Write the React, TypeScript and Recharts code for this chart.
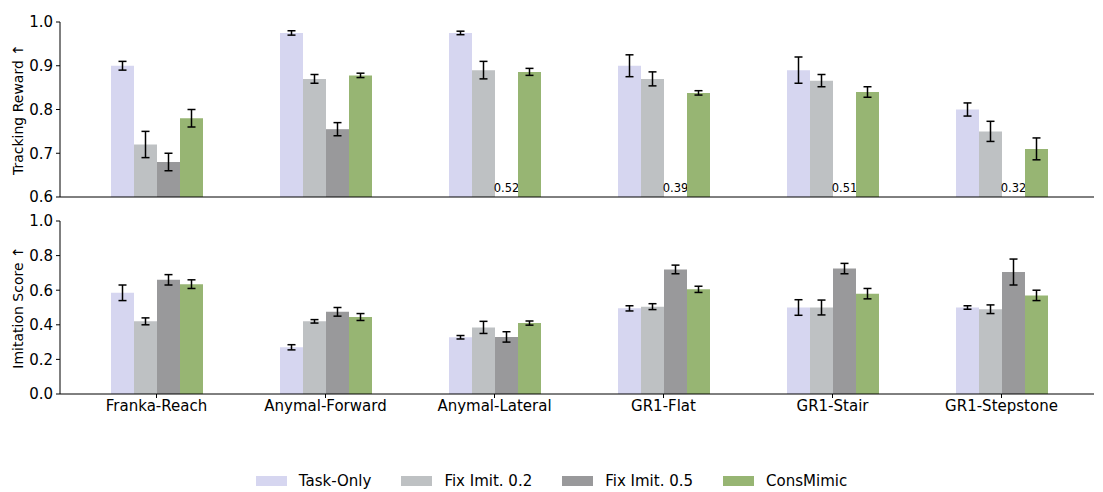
import { BarChart, Bar, XAxis, YAxis, ErrorBar, Label } from 'recharts';

const categories = ['Franka-Reach', 'Anymal-Forward', 'Anymal-Lateral', 'GR1-Flat', 'GR1-Stair', 'GR1-Stepstone'];

// Tracking reward (top panel)
const trackTask = [0.9, 0.975, 0.975, 0.9, 0.89, 0.8];
const trackTaskErr = [0.01, 0.005, 0.004, 0.025, 0.03, 0.015];
const trackFix2 = [0.72, 0.87, 0.89, 0.87, 0.866, 0.75];
const trackFix2Err = [0.03, 0.01, 0.02, 0.016, 0.014, 0.023];
const trackFix5 = [0.68, 0.755, 0.52, 0.39, 0.51, 0.32];
const trackFix5Err = [0.02, 0.015, null, null, null, null];
const trackCons = [0.78, 0.878, 0.886, 0.838, 0.84, 0.71];
const trackConsErr = [0.02, 0.005, 0.008, 0.005, 0.012, 0.025];

// Imitation score (bottom panel)
const imitTask = [0.585, 0.27, 0.328, 0.495, 0.5, 0.5];
const imitTaskErr = [0.045, 0.015, 0.01, 0.015, 0.045, 0.01];
const imitFix2 = [0.42, 0.42, 0.385, 0.505, 0.5, 0.49];
const imitFix2Err = [0.02, 0.01, 0.035, 0.017, 0.043, 0.025];
const imitFix5 = [0.66, 0.475, 0.33, 0.72, 0.725, 0.705];
const imitFix5Err = [0.03, 0.025, 0.03, 0.025, 0.03, 0.075];
const imitCons = [0.635, 0.445, 0.41, 0.605, 0.58, 0.57];
const imitConsErr = [0.025, 0.02, 0.012, 0.018, 0.03, 0.03];

const trackTicks = [0.6, 0.7, 0.8, 0.9, 1.0];
const imitTicks = [0, 0.2, 0.4, 0.6, 0.8, 1.0];

const SERIES = [
  { key: 'task', name: 'Task-Only', color: '#d6d6f0' },
  { key: 'fix2', name: 'Fix Imit. 0.2', color: '#bec1c3' },
  { key: 'fix5', name: 'Fix Imit. 0.5', color: '#99999b' },
  { key: 'cons', name: 'ConsMimic', color: '#97b573' },
];

const TRACK_MIN = 0.6;
const FONT = '"DejaVu Sans", sans-serif';

const trackData = categories.map((c, i) => ({
  name: c,
  task: trackTask[i], taskErr: trackTaskErr[i],
  fix2: trackFix2[i], fix2Err: trackFix2Err[i],
  fix5: trackFix5[i], fix5Err: trackFix5Err[i],
  cons: trackCons[i], consErr: trackConsErr[i],
}));

const imitData = categories.map((c, i) => ({
  name: c,
  task: imitTask[i], taskErr: imitTaskErr[i],
  fix2: imitFix2[i], fix2Err: imitFix2Err[i],
  fix5: imitFix5[i], fix5Err: imitFix5Err[i],
  cons: imitCons[i], consErr: imitConsErr[i],
}));

// bars below the visible range get their value written at the bottom instead
function Fix5Shape(p: any) {
  const { x, y, width, height, payload, fill } = p;
  if (payload.fix5 < TRACK_MIN) {
    return (
      <text x={x + width / 2} y={y + height - 5} textAnchor="middle" fontSize={11.5} fontFamily={FONT} fill="#000">
        {payload.fix5.toFixed(2)}
      </text>
    );
  }
  return <rect x={x} y={y} width={width} height={height} fill={fill} />;
}

const yTitle = (text: string) => (props: any) => {
  const vb = props.viewBox;
  const cx = 18, cy = vb.y + vb.height / 2;
  return (
    <text x={cx} y={cy} transform={`rotate(-90 ${cx} ${cy})`} textAnchor="middle" dominantBaseline="central" fontSize={14} fontFamily={FONT} fill="#000">
      {text}
    </text>
  );
};

const tickStyle = { fontSize: 15, fontFamily: FONT, fill: '#000' };
const axisLine = { stroke: '#000', strokeWidth: 1 };

function Bars({ top }: { top: boolean }) {
  return SERIES.map(s => (
    <Bar key={s.key} dataKey={s.key} name={s.name} fill={s.color} isAnimationActive={false}
      shape={top && s.key === 'fix5' ? Fix5Shape : undefined}>
      <ErrorBar dataKey={s.key + 'Err'} direction="y" width={4} stroke="#000" strokeWidth={1.5} />
    </Bar>
  ));
}

export default function App() {
  return (
    <div style={{ position: 'absolute', left: 0, top: 0, width: 1103, height: 492, background: '#fff', fontFamily: FONT }}>
      <BarChart width={1103} height={205} data={trackData} margin={{ top: 22, right: 9, bottom: 0, left: 0 }} barGap={0} barSize={23}>
        <XAxis dataKey="name" height={8} tick={false} tickSize={4} padding={{ left: 12, right: 8 }} axisLine={axisLine} tickLine={axisLine} />
        <YAxis type="number" domain={[0.6, 1.0]} allowDataOverflow ticks={trackTicks} interval={0} width={60} tickSize={4} tickMargin={3}
          tick={tickStyle} tickFormatter={(v: number) => v.toFixed(1)} axisLine={axisLine} tickLine={axisLine}>
          <Label content={yTitle('Tracking Reward ↑')} />
        </YAxis>
        {Bars({ top: true })}
      </BarChart>
      <BarChart width={1103} height={219} data={imitData} margin={{ top: 16, right: 9, bottom: 0, left: 0 }} barGap={0} barSize={23}>
        <XAxis dataKey="name" height={30} tick={tickStyle} tickSize={4} tickMargin={2} padding={{ left: 12, right: 8 }} axisLine={axisLine} tickLine={axisLine} interval={0} />
        <YAxis type="number" domain={[0, 1.0]} ticks={imitTicks} interval={0} width={60} tickSize={4} tickMargin={3}
          tick={tickStyle} tickFormatter={(v: number) => v.toFixed(1)} axisLine={axisLine} tickLine={axisLine}>
          <Label content={yTitle('Imitation Score ↑')} />
        </YAxis>
        {Bars({ top: false })}
      </BarChart>
      <div style={{ position: 'absolute', top: 471, left: 0, width: 1103, display: 'flex', justifyContent: 'center', gap: 30, fontSize: 15, color: '#000' }}>
        {SERIES.map(s => (
          <div key={s.key} style={{ display: 'flex', alignItems: 'center', gap: 12, height: 20 }}>
            <div style={{ width: 31, height: 10, background: s.color }} />
            <span>{s.name}</span>
          </div>
        ))}
      </div>
    </div>
  );
}
